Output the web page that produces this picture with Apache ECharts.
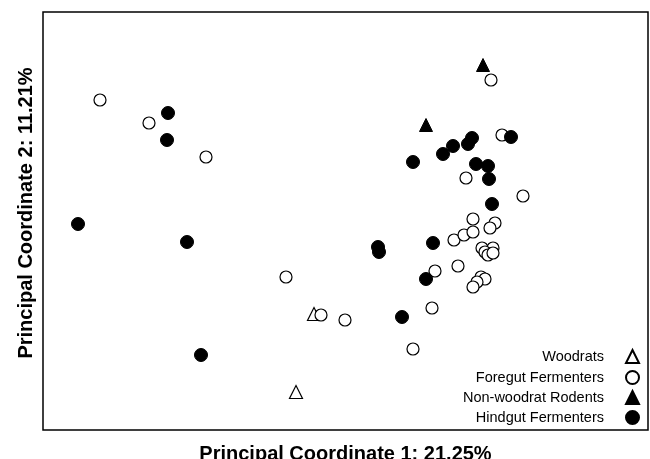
<!DOCTYPE html>
<html>
<head>
<meta charset="utf-8">
<script src="https://cdn.jsdelivr.net/npm/echarts@6/dist/echarts.min.js"></script>
<style>
  html, body { margin: 0; padding: 0; background: #fff; }
  #chart { width: 650px; height: 459px; }
</style>
</head>
<body>
<div id="chart"></div>
<script>
// PCoA scores (arbitrary units, origin at lower-left of frame)
const woodrats = [[271, 116], [253, 38]];
const foregut = [
  [57, 330], [106, 307], [163, 273], [243, 153], [278, 115], [302, 110],
  [370, 81], [389, 122], [392, 159], [415, 164], [438, 153], [442, 151],
  [434, 148], [430, 143], [411, 190], [421, 195], [430, 198], [430, 211],
  [452, 207], [447, 202], [439, 182], [450, 182], [442, 178], [445, 175],
  [450, 177], [423, 252], [480, 234], [459, 295], [448, 350]
];
const rodents = [[440, 365], [383, 305]];
const hindgut = [
  [125, 317], [124, 290], [35, 206], [144, 188], [158, 75], [335, 183],
  [336, 178], [359, 113], [383, 151], [390, 187], [370, 268], [400, 276],
  [410, 284], [425, 286], [429, 292], [433, 266], [445, 264], [446, 251],
  [468, 293], [449, 226]
];
const groupNames = ['Woodrats', 'Foregut Fermenters', 'Non-woodrat Rodents', 'Hindgut Fermenters'];

const font = '"Liberation Sans", Arial, sans-serif';
const openStyle = { color: '#fff', borderColor: '#000', borderWidth: 1.2, opacity: 1 };
const fillStyle = { color: '#000', borderColor: '#000', borderWidth: 1, opacity: 1 };

function legendRow(name, top) {
  return {
    data: [name],
    orient: 'vertical',
    right: 10,
    top: top,
    padding: 0,
    align: 'right',
    itemWidth: 13,
    itemHeight: 13,
    selectedMode: false,
    textStyle: { fontFamily: font, fontSize: 14.5, color: '#000', padding: [0, 17, 0, 0] }
  };
}

const chart = echarts.init(document.getElementById('chart'));
chart.setOption({
  animation: false,
  backgroundColor: '#fff',
  grid: {
    left: 43, right: 2, top: 12, bottom: 29,
    outerBoundsMode: 'none', containLabel: false,
    show: true, borderColor: '#000', borderWidth: 1.5, backgroundColor: 'transparent'
  },
  legend: [
    legendRow(groupNames[0], 349),
    legendRow(groupNames[1], 370),
    legendRow(groupNames[2], 390),
    legendRow(groupNames[3], 410)
  ],
  xAxis: {
    type: 'value', min: 0, max: 605,
    name: 'Principal Coordinate 1: 21.25%', nameLocation: 'middle', nameGap: 14,
    nameTextStyle: { fontFamily: font, fontSize: 20, fontWeight: 'bold', color: '#000' },
    axisLine: { show: false }, axisTick: { show: false }, axisLabel: { show: false }, splitLine: { show: false }
  },
  yAxis: {
    type: 'value', min: 0, max: 418,
    name: 'Principal Coordinate 2: 11.21%', nameLocation: 'middle', nameGap: 7,
    nameTextStyle: { fontFamily: font, fontSize: 20, fontWeight: 'bold', color: '#000', padding: [0, 0, 0, 16] },
    axisLine: { show: false }, axisTick: { show: false }, axisLabel: { show: false }, splitLine: { show: false }
  },
  series: [
    { name: groupNames[0], type: 'scatter', data: woodrats, symbol: 'triangle', symbolSize: 13, itemStyle: openStyle },
    { name: groupNames[1], type: 'scatter', data: foregut, symbol: 'circle', symbolSize: 12, itemStyle: openStyle },
    { name: groupNames[2], type: 'scatter', data: rodents, symbol: 'triangle', symbolSize: 13, itemStyle: fillStyle },
    { name: groupNames[3], type: 'scatter', data: hindgut, symbol: 'circle', symbolSize: 13, itemStyle: fillStyle }
  ]
});
</script>
</body>
</html>
